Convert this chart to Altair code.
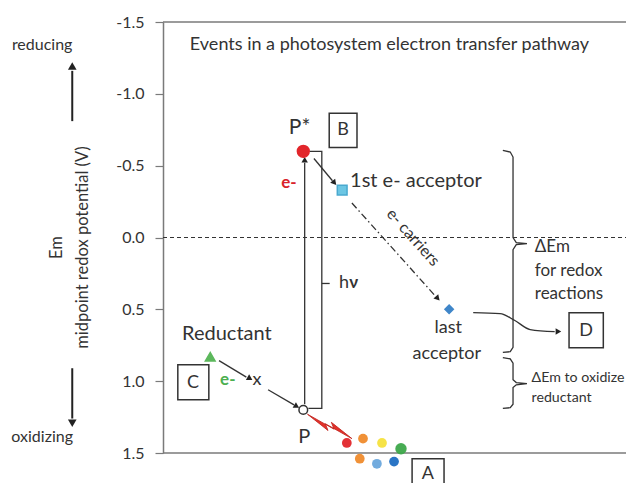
import altair as alt
import pandas as pd

# ---------------- data (x in diagram units 0-100, Em in volts) ----------------
Y_TICKS = [-1.5, -1.0, -0.5, 0.0, 0.5, 1.0, 1.5]

# species markers
SPECIES = ["P*", "1st e- acceptor", "last acceptor", "Reductant", "P"]
SPECIES_X = [30.3, 38.7, 61.8, 10.2, 30.3]
SPECIES_EM = [-0.60, -0.33, 0.50, 0.83, 1.20]
SPECIES_SHAPE = ["circle", "square", "diamond", "triangle-up", "circle"]
SPECIES_FILL = ["#e2262b", "#6cc6e3", "#3f86c9", "#5cb85c", "#ffffff"]
SPECIES_STROKE = ["#e2262b", "#4aa9cf", "#3f86c9", "#5cb85c", "#333333"]
SPECIES_SIZE = [140, 95, 70, 95, 75]

# light spectrum dots
LIGHT_X = [39.7, 43.2, 47.3, 51.4, 42.5, 46.2, 49.9]
LIGHT_EM = [1.43, 1.40, 1.43, 1.47, 1.54, 1.575, 1.56]
LIGHT_COLOR = ["#e2262b", "#ef8b2c", "#f5e23d", "#3da84a", "#ef8b2c", "#6aa6dc", "#1f6ec2"]
LIGHT_SIZE = [95, 95, 95, 130, 95, 95, 95]

# solid connector lines (id, list of (x, Em))
SOLID_LINES = {
    "e_up": [(30.6, 1.16), (30.6, -0.52)],
    "hv_bracket": [(31.6, -0.60), (34.3, -0.60), (34.3, 1.19), (31.4, 1.19)],
    "hv_tick": [(34.3, 0.32), (36.0, 0.32)],
    "pstar_to_1st": [(32.6, -0.55), (36.6, -0.395)],
    "red_to_x": [(12.1, 0.857), (18.0, 0.972)],
    "x_to_p": [(22.7, 1.06), (28.3, 1.165)],
    "brace_big": [(73.4, -0.606), (75.0, -0.595), (75.6, -0.56), (75.6, 0.0),
                  (76.3, 0.035), (78.6, 0.042), (76.3, 0.05), (75.6, 0.085),
                  (75.6, 0.765), (75.0, 0.795), (73.4, 0.80)],
    "brace_small": [(73.4, 0.836), (75.0, 0.845), (75.6, 0.875), (75.6, 0.99),
                    (76.3, 1.01), (78.6, 1.017), (76.3, 1.025), (75.6, 1.045),
                    (75.6, 1.16), (75.0, 1.185), (73.4, 1.19)],
}
SIDE_ARROWS = {
    "left_up": [(-19.6, -0.81), (-19.6, -1.16)],
    "left_down": [(-19.6, 0.91), (-19.6, 1.26)],
}
DASHDOT_LINE = [(40.8, -0.24), (58.9, 0.41)]
CURVE_LINE = [(67.0, 0.523), (72.8, 0.53), (76.0, 0.578), (79.3, 0.641), (84.6, 0.655)]

# arrow heads
HEAD_X = [30.6, 36.9, 18.6, 28.7, 59.2, 85.2]
HEAD_EM = [-0.535, -0.385, 0.978, 1.172, 0.42, 0.655]
HEAD_ANGLE = [0, 140, 120, 121, 138, 90]
SIDE_HEAD_X = [-19.6, -19.6]
SIDE_HEAD_EM = [-1.185, 1.285]
SIDE_HEAD_ANGLE = [0, 180]

# boxes A-D
BOX_LABEL = ["A", "B", "C", "D"]
BOX_X1 = [53.8, 35.9, 3.2, 87.7]
BOX_X2 = [60.7, 41.9, 9.9, 95.1]
BOX_Y1 = [1.54, -0.864, 0.885, 0.523]
BOX_Y2 = [1.76, -0.627, 1.129, 0.767]
BOX_TX = [57.2, 38.9, 6.5, 91.4]
BOX_TY = [1.645, -0.745, 1.01, 0.648]

# centred labels
C_TEXT = ["P*", "P", "Reductant", "last", "acceptor", "x", "reducing", "oxidizing"]
C_X = [29.5, 30.5, 13.8, 61.6, 61.3, 20.3, -26.1, -26.1]
C_EM = [-0.765, 1.39, 0.67, 0.63, 0.81, 0.99, -1.338, 1.387]
C_SIZE = [21, 20, 20, 18, 18, 18, 16, 16]

# left-aligned labels
L_TEXT = ["Events in a photosystem  electron transfer pathway", "1st e- acceptor", "h",
          "\u0394Em", "for redox", "reactions", "\u0394Em to oxidize", "reductant"]
L_X = [5.8, 40.4, 38.0, 80.3, 80.3, 80.3, 79.6, 79.6]
L_EM = [-1.338, -0.39, 0.32, 0.063, 0.23, 0.39, 0.976, 1.115]
L_SIZE = [18, 20, 18, 17, 17, 17, 14.2, 14.2]

# bold labels
B_TEXT = ["e-", "e-", "\u03bd"]
B_X = [27.2, 14.0, 41.2]
B_EM = [-0.376, 0.99, 0.32]
B_COLOR = ["#d9232a", "#4caf50", "#333333"]

CARRIER_X, CARRIER_EM = [54.0], [0.0]
BOLT_X, BOLT_EM = [36.0], [1.315]

TEXT_COLOR = "#333333"
FONT = "Lato"

# ---------------- scales / encodings ----------------
xs = alt.Scale(domain=[0, 100], nice=False, zero=False)
ys = alt.Scale(domain=[-1.5, 1.5], reverse=True, nice=False, zero=False)

yaxis = alt.Axis(
    values=Y_TICKS,
    labelExpr="datum.value < 0 ? '-' + format(-datum.value, '.1f') : format(datum.value, '.1f')",
    labelFontSize=16, labelColor=TEXT_COLOR, labelFont=FONT, labelPadding=11,
    tickSize=8, tickColor="#7a7a7a", domainColor="#7a7a7a", domainWidth=1.5, tickWidth=1.2,
    grid=False,
    title=["Em", "midpoint redox potential  (V)"],
    titleFont=FONT, titleFontSize=16.5, titleFontWeight="normal", titleColor=TEXT_COLOR,
    titleAngle=-90, titleAlign="center", titleBaseline="middle",
    titleLineHeight=26, titleX=-107, titleY=225,
)


def X(f="x"):
    return alt.X(f"{f}:Q", scale=xs, axis=None)


def Y(f="y"):
    return alt.Y(f"{f}:Q", scale=ys, axis=yaxis)


def lines_df(d):
    rows = []
    for k, pts in d.items():
        for i, (x, y) in enumerate(pts):
            rows.append({"id": k, "i": i, "x": x, "y": y})
    return pd.DataFrame(rows)


# frame lines
frame = pd.DataFrame({"x": [0, 0], "x2": [100, 100], "y": [-1.5, 1.5]})
frame_layer = alt.Chart(frame).mark_rule(color="#7a7a7a", strokeWidth=1.5).encode(
    x=X(), x2="x2:Q", y=Y())

zero = pd.DataFrame({"x": [0], "x2": [100], "y": [0.0]})
zero_layer = alt.Chart(zero).mark_rule(color="#333", strokeWidth=1.2, strokeDash=[4, 3]).encode(
    x=X(), x2="x2:Q", y=Y())

solid_layer = alt.Chart(lines_df(SOLID_LINES)).mark_line(
    color="#333", strokeWidth=1.3).encode(x=X(), y=Y(), detail="id:N", order="i:Q")

side_layer = alt.Chart(lines_df(SIDE_ARROWS)).mark_line(
    color="#222", strokeWidth=2).encode(x=X(), y=Y(), detail="id:N", order="i:Q")

dashdot_layer = alt.Chart(lines_df({"dd": DASHDOT_LINE})).mark_line(
    color="#333", strokeWidth=1.3, strokeDash=[7, 3, 1.5, 3]).encode(
    x=X(), y=Y(), detail="id:N", order="i:Q")

curve_layer = alt.Chart(lines_df({"c": CURVE_LINE})).mark_line(
    color="#333", strokeWidth=1.3, interpolate="monotone").encode(
    x=X(), y=Y(), detail="id:N", order="i:Q")

heads = pd.DataFrame({"x": HEAD_X, "y": HEAD_EM, "a": HEAD_ANGLE})
head_layer = alt.Chart(heads).mark_point(
    shape="triangle", filled=True, color="#222", size=42, opacity=1).encode(
    x=X(), y=Y(), angle=alt.Angle("a:Q", scale=None))

side_heads = pd.DataFrame({"x": SIDE_HEAD_X, "y": SIDE_HEAD_EM, "a": SIDE_HEAD_ANGLE})
side_head_layer = alt.Chart(side_heads).mark_point(
    shape="triangle", filled=True, color="#222", size=75, opacity=1).encode(
    x=X(), y=Y(), angle=alt.Angle("a:Q", scale=None))

sp = pd.DataFrame({"name": SPECIES, "x": SPECIES_X, "y": SPECIES_EM, "shape": SPECIES_SHAPE,
                   "fill": SPECIES_FILL, "stroke": SPECIES_STROKE, "size": SPECIES_SIZE})
species_layer = alt.Chart(sp).mark_point(filled=True, opacity=1, strokeWidth=1.5).encode(
    x=X(), y=Y(),
    shape=alt.Shape("shape:N", scale=None),
    fill=alt.Fill("fill:N", scale=None),
    stroke=alt.Stroke("stroke:N", scale=None),
    size=alt.Size("size:Q", scale=None))

light = pd.DataFrame({"x": LIGHT_X, "y": LIGHT_EM, "c": LIGHT_COLOR, "s": LIGHT_SIZE})
light_layer = alt.Chart(light).mark_circle(opacity=0.95).encode(
    x=X(), y=Y(), color=alt.Color("c:N", scale=None), size=alt.Size("s:Q", scale=None))

bolt_path = "M-1,-0.34 L0.2,0.08 L0.04,-0.18 L1,0.34 L-0.2,-0.08 L-0.04,0.18 Z"
bolt = pd.DataFrame({"x": BOLT_X, "y": BOLT_EM})
bolt_layer = alt.Chart(bolt).mark_point(
    shape=bolt_path, filled=True, color="#e4312a", stroke="#c0261f", strokeWidth=0.8,
    size=2300, angle=10, opacity=1).encode(x=X(), y=Y())

boxes = pd.DataFrame({"x": BOX_X1, "x2": BOX_X2, "y": BOX_Y1, "y2": BOX_Y2})
box_layer = alt.Chart(boxes).mark_rect(
    filled=False, stroke="#333", strokeWidth=1.5, fill=None).encode(
    x=X(), x2="x2:Q", y=Y(), y2="y2:Q")

box_txt = pd.DataFrame({"t": BOX_LABEL, "x": BOX_TX, "y": BOX_TY})
box_txt_layer = alt.Chart(box_txt).mark_text(
    font=FONT, fontSize=18, color=TEXT_COLOR, align="center", baseline="middle").encode(
    x=X(), y=Y(), text="t:N")

ctext = pd.DataFrame({"t": C_TEXT, "x": C_X, "y": C_EM, "s": C_SIZE})
ctext_layer = alt.Chart(ctext).mark_text(
    font=FONT, color=TEXT_COLOR, align="center", baseline="middle").encode(
    x=X(), y=Y(), text="t:N", size=alt.Size("s:Q", scale=None))

ltext = pd.DataFrame({"t": L_TEXT, "x": L_X, "y": L_EM, "s": L_SIZE})
ltext_layer = alt.Chart(ltext).mark_text(
    font=FONT, color=TEXT_COLOR, align="left", baseline="middle").encode(
    x=X(), y=Y(), text="t:N", size=alt.Size("s:Q", scale=None))

btext = pd.DataFrame({"t": B_TEXT, "x": B_X, "y": B_EM, "c": B_COLOR})
btext_layer = alt.Chart(btext).mark_text(
    font=FONT, fontSize=17, fontWeight="bold", align="center", baseline="middle").encode(
    x=X(), y=Y(), text="t:N", color=alt.Color("c:N", scale=None))

carrier = pd.DataFrame({"t": ["e- carriers"], "x": CARRIER_X, "y": CARRIER_EM})
carrier_layer = alt.Chart(carrier).mark_text(
    font=FONT, fontSize=16, color=TEXT_COLOR, align="center", baseline="middle", angle=48).encode(
    x=X(), y=Y(), text="t:N")

chart = alt.layer(
    frame_layer, zero_layer, solid_layer, side_layer, dashdot_layer, curve_layer,
    head_layer, side_head_layer,
    box_layer, box_txt_layer, light_layer, bolt_layer, species_layer,
    ctext_layer, ltext_layer, btext_layer, carrier_layer,
).properties(
    width=463, height=431,
    padding={"left": 155, "top": 14, "right": 0, "bottom": 30},
    autosize=alt.AutoSizeParams(type="none"),
    background="white",
).configure_view(stroke=None)

chart.save("out.html", embed_options={"renderer": "svg", "actions": False})
